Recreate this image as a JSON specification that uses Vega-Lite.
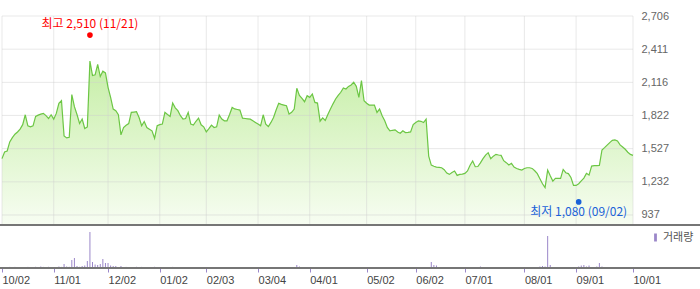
{
  "$schema": "https://vega.github.io/schema/vega-lite/v6.json",
  "width": 700,
  "height": 268,
  "autosize": "none",
  "padding": {"left": 0, "top": 0, "right": 0, "bottom": 21},
  "background": "white",
  "config": {"view": {"stroke": null}, "font": "Liberation Sans"},
  "datasets": {
    "px": [
      {"d":"2024-10-02","p":1438,"v":30},{"d":"2024-10-04","p":1497,"v":20},{"d":"2024-10-07","p":1506,"v":20},{"d":"2024-10-08","p":1587,"v":110},{"d":"2024-10-10","p":1625,"v":100},
      {"d":"2024-10-11","p":1655,"v":110},{"d":"2024-10-14","p":1675,"v":20},{"d":"2024-10-15","p":1700,"v":100},{"d":"2024-10-16","p":1740,"v":100},{"d":"2024-10-17","p":1828,"v":20},
      {"d":"2024-10-18","p":1730,"v":110},{"d":"2024-10-21","p":1721,"v":20},{"d":"2024-10-22","p":1730,"v":100},{"d":"2024-10-23","p":1813,"v":120},{"d":"2024-10-24","p":1825,"v":100},
      {"d":"2024-10-25","p":1834,"v":150},{"d":"2024-10-28","p":1840,"v":110},{"d":"2024-10-29","p":1820,"v":20},{"d":"2024-10-30","p":1795,"v":120},{"d":"2024-10-31","p":1828,"v":20},
      {"d":"2024-11-01","p":1789,"v":20},{"d":"2024-11-04","p":1840,"v":100},{"d":"2024-11-05","p":1930,"v":150},{"d":"2024-11-06","p":1953,"v":110},{"d":"2024-11-07","p":1640,"v":400},
      {"d":"2024-11-08","p":1622,"v":150},{"d":"2024-11-11","p":1628,"v":120},{"d":"2024-11-12","p":2007,"v":800},{"d":"2024-11-13","p":1900,"v":1000},{"d":"2024-11-14","p":1830,"v":200},
      {"d":"2024-11-15","p":1750,"v":120},{"d":"2024-11-18","p":1790,"v":200},{"d":"2024-11-19","p":1706,"v":250},{"d":"2024-11-20","p":1720,"v":700},{"d":"2024-11-21","p":2305,"v":3600},
      {"d":"2024-11-22","p":2177,"v":600},{"d":"2024-11-25","p":2183,"v":350},{"d":"2024-11-26","p":2275,"v":300},{"d":"2024-11-27","p":2168,"v":400},{"d":"2024-11-28","p":2215,"v":900},
      {"d":"2024-11-29","p":2200,"v":500},{"d":"2024-12-02","p":2072,"v":500},{"d":"2024-12-03","p":1983,"v":250},{"d":"2024-12-04","p":1879,"v":200},{"d":"2024-12-05","p":1864,"v":200},
      {"d":"2024-12-06","p":1828,"v":100},{"d":"2024-12-09","p":1649,"v":200},{"d":"2024-12-10","p":1715,"v":100},{"d":"2024-12-11","p":1735,"v":110},{"d":"2024-12-12","p":1750,"v":100},
      {"d":"2024-12-13","p":1849,"v":100},{"d":"2024-12-16","p":1852,"v":100},{"d":"2024-12-17","p":1855,"v":120},{"d":"2024-12-18","p":1804,"v":100},{"d":"2024-12-19","p":1730,"v":110},
      {"d":"2024-12-20","p":1768,"v":100},{"d":"2024-12-23","p":1715,"v":20},{"d":"2024-12-24","p":1700,"v":100},{"d":"2024-12-26","p":1685,"v":100},{"d":"2024-12-27","p":1619,"v":120},
      {"d":"2024-12-30","p":1730,"v":20},{"d":"2025-01-02","p":1740,"v":100},{"d":"2025-01-03","p":1745,"v":20},{"d":"2025-01-06","p":1849,"v":100},{"d":"2025-01-07","p":1830,"v":100},
      {"d":"2025-01-08","p":1813,"v":20},{"d":"2025-01-09","p":1932,"v":110},{"d":"2025-01-10","p":1890,"v":20},{"d":"2025-01-13","p":1864,"v":100},{"d":"2025-01-14","p":1820,"v":20},
      {"d":"2025-01-15","p":1789,"v":20},{"d":"2025-01-16","p":1795,"v":100},{"d":"2025-01-17","p":1849,"v":20},{"d":"2025-01-20","p":1745,"v":100},{"d":"2025-01-21","p":1736,"v":100},
      {"d":"2025-01-22","p":1770,"v":20},{"d":"2025-01-23","p":1798,"v":20},{"d":"2025-01-24","p":1739,"v":20},{"d":"2025-01-31","p":1721,"v":20},{"d":"2025-02-03","p":1676,"v":20},
      {"d":"2025-02-04","p":1705,"v":20},{"d":"2025-02-05","p":1736,"v":100},{"d":"2025-02-06","p":1715,"v":20},{"d":"2025-02-07","p":1721,"v":20},{"d":"2025-02-10","p":1825,"v":100},
      {"d":"2025-02-11","p":1790,"v":20},{"d":"2025-02-12","p":1774,"v":20},{"d":"2025-02-13","p":1774,"v":100},{"d":"2025-02-14","p":1830,"v":20},{"d":"2025-02-17","p":1893,"v":20},
      {"d":"2025-02-18","p":1880,"v":100},{"d":"2025-02-19","p":1875,"v":100},{"d":"2025-02-20","p":1870,"v":100},{"d":"2025-02-21","p":1798,"v":20},{"d":"2025-02-24","p":1795,"v":20},
      {"d":"2025-02-25","p":1792,"v":20},{"d":"2025-02-26","p":1789,"v":100},{"d":"2025-02-27","p":1775,"v":20},{"d":"2025-02-28","p":1760,"v":20},{"d":"2025-03-04","p":1745,"v":20},
      {"d":"2025-03-05","p":1730,"v":100},{"d":"2025-03-06","p":1828,"v":100},{"d":"2025-03-07","p":1745,"v":20},{"d":"2025-03-10","p":1724,"v":100},{"d":"2025-03-11","p":1760,"v":100},
      {"d":"2025-03-12","p":1804,"v":100},{"d":"2025-03-13","p":1870,"v":100},{"d":"2025-03-14","p":1929,"v":100},{"d":"2025-03-17","p":1920,"v":100},{"d":"2025-03-18","p":1914,"v":20},
      {"d":"2025-03-19","p":1908,"v":100},{"d":"2025-03-20","p":1834,"v":100},{"d":"2025-03-21","p":1850,"v":20},{"d":"2025-03-24","p":1879,"v":100},{"d":"2025-03-25","p":2063,"v":300},
      {"d":"2025-03-26","p":2000,"v":150},{"d":"2025-03-27","p":1974,"v":100},{"d":"2025-03-28","p":1944,"v":100},{"d":"2025-03-31","p":1998,"v":100},{"d":"2025-04-01","p":1983,"v":20},
      {"d":"2025-04-02","p":2013,"v":100},{"d":"2025-04-03","p":1938,"v":100},{"d":"2025-04-04","p":1932,"v":20},{"d":"2025-04-07","p":1771,"v":20},{"d":"2025-04-08","p":1800,"v":100},
      {"d":"2025-04-09","p":1777,"v":20},{"d":"2025-04-10","p":1830,"v":20},{"d":"2025-04-11","p":1879,"v":100},{"d":"2025-04-14","p":1925,"v":100},{"d":"2025-04-15","p":1968,"v":20},
      {"d":"2025-04-16","p":2000,"v":100},{"d":"2025-04-17","p":2028,"v":20},{"d":"2025-04-18","p":2066,"v":100},{"d":"2025-04-21","p":2057,"v":100},{"d":"2025-04-22","p":2080,"v":100},
      {"d":"2025-04-23","p":2093,"v":100},{"d":"2025-04-24","p":2117,"v":100},{"d":"2025-04-25","p":2081,"v":100},{"d":"2025-04-28","p":1983,"v":100},{"d":"2025-04-29","p":2132,"v":100},
      {"d":"2025-04-30","p":1953,"v":20},{"d":"2025-05-02","p":1930,"v":100},{"d":"2025-05-07","p":1914,"v":20},{"d":"2025-05-08","p":1914,"v":100},{"d":"2025-05-09","p":1914,"v":100},
      {"d":"2025-05-12","p":1849,"v":20},{"d":"2025-05-13","p":1879,"v":100},{"d":"2025-05-14","p":1820,"v":100},{"d":"2025-05-15","p":1774,"v":100},{"d":"2025-05-16","p":1715,"v":20},
      {"d":"2025-05-19","p":1685,"v":20},{"d":"2025-05-20","p":1690,"v":20},{"d":"2025-05-21","p":1694,"v":20},{"d":"2025-05-22","p":1675,"v":20},{"d":"2025-05-23","p":1664,"v":20},
      {"d":"2025-05-26","p":1685,"v":20},{"d":"2025-05-27","p":1670,"v":100},{"d":"2025-05-28","p":1672,"v":20},{"d":"2025-05-29","p":1676,"v":20},{"d":"2025-05-30","p":1740,"v":100},
      {"d":"2025-06-02","p":1759,"v":20},{"d":"2025-06-04","p":1774,"v":20},{"d":"2025-06-05","p":1770,"v":100},{"d":"2025-06-09","p":1759,"v":20},{"d":"2025-06-10","p":1789,"v":20},
      {"d":"2025-06-11","p":1461,"v":100},{"d":"2025-06-12","p":1381,"v":600},{"d":"2025-06-13","p":1370,"v":300},{"d":"2025-06-16","p":1363,"v":250},{"d":"2025-06-17","p":1360,"v":100},
      {"d":"2025-06-18","p":1357,"v":20},{"d":"2025-06-19","p":1340,"v":100},{"d":"2025-06-20","p":1310,"v":100},{"d":"2025-06-23","p":1298,"v":100},{"d":"2025-06-24","p":1315,"v":20},
      {"d":"2025-06-25","p":1328,"v":20},{"d":"2025-06-26","p":1289,"v":20},{"d":"2025-06-27","p":1298,"v":20},{"d":"2025-06-30","p":1300,"v":20},{"d":"2025-07-01","p":1307,"v":20},
      {"d":"2025-07-02","p":1328,"v":20},{"d":"2025-07-03","p":1380,"v":100},{"d":"2025-07-04","p":1417,"v":20},{"d":"2025-07-07","p":1366,"v":100},{"d":"2025-07-08","p":1368,"v":100},
      {"d":"2025-07-09","p":1400,"v":150},{"d":"2025-07-10","p":1438,"v":20},{"d":"2025-07-11","p":1470,"v":20},{"d":"2025-07-14","p":1491,"v":20},{"d":"2025-07-15","p":1438,"v":20},
      {"d":"2025-07-16","p":1460,"v":20},{"d":"2025-07-17","p":1476,"v":20},{"d":"2025-07-18","p":1470,"v":20},{"d":"2025-07-21","p":1467,"v":20},{"d":"2025-07-22","p":1420,"v":20},
      {"d":"2025-07-23","p":1402,"v":100},{"d":"2025-07-24","p":1381,"v":20},{"d":"2025-07-25","p":1396,"v":20},{"d":"2025-07-28","p":1363,"v":20},{"d":"2025-07-29","p":1350,"v":100},
      {"d":"2025-07-30","p":1342,"v":20},{"d":"2025-07-31","p":1336,"v":20},{"d":"2025-08-01","p":1350,"v":20},{"d":"2025-08-04","p":1357,"v":100},{"d":"2025-08-05","p":1357,"v":20},
      {"d":"2025-08-06","p":1351,"v":100},{"d":"2025-08-07","p":1330,"v":20},{"d":"2025-08-08","p":1304,"v":100},{"d":"2025-08-11","p":1260,"v":150},{"d":"2025-08-12","p":1215,"v":200},
      {"d":"2025-08-13","p":1180,"v":150},{"d":"2025-08-14","p":1336,"v":3200},{"d":"2025-08-18","p":1285,"v":300},{"d":"2025-08-19","p":1238,"v":100},{"d":"2025-08-20","p":1262,"v":100},
      {"d":"2025-08-21","p":1262,"v":100},{"d":"2025-08-22","p":1262,"v":100},{"d":"2025-08-25","p":1342,"v":100},{"d":"2025-08-26","p":1313,"v":100},{"d":"2025-08-27","p":1305,"v":100},
      {"d":"2025-08-28","p":1270,"v":20},{"d":"2025-08-29","p":1200,"v":100},{"d":"2025-09-01","p":1200,"v":100},{"d":"2025-09-02","p":1215,"v":150},{"d":"2025-09-03","p":1240,"v":250},
      {"d":"2025-09-04","p":1265,"v":300},{"d":"2025-09-05","p":1307,"v":150},{"d":"2025-09-08","p":1292,"v":250},{"d":"2025-09-09","p":1372,"v":100},{"d":"2025-09-10","p":1375,"v":20},
      {"d":"2025-09-11","p":1376,"v":150},{"d":"2025-09-12","p":1378,"v":500},{"d":"2025-09-15","p":1515,"v":150},{"d":"2025-09-16","p":1536,"v":100},{"d":"2025-09-17","p":1558,"v":100},
      {"d":"2025-09-18","p":1580,"v":100},{"d":"2025-09-19","p":1600,"v":100},{"d":"2025-09-22","p":1604,"v":100},{"d":"2025-09-23","p":1595,"v":100},{"d":"2025-09-24","p":1560,"v":20},
      {"d":"2025-09-25","p":1541,"v":100},{"d":"2025-09-26","p":1521,"v":100},{"d":"2025-09-29","p":1495,"v":0},{"d":"2025-09-30","p":1476,"v":0},{"d":"2025-10-01","p":1467,"v":0}
    ],
    "ext": [
      {"d":"2024-11-21","p":2510,"kind":"max","label":"최고 2,510 (11/21)"},
      {"d":"2025-09-02","p":1080,"kind":"min","label":"최저 1,080 (09/02)"}
    ],
    "ticks": [{"p":937},{"p":1232},{"p":1527},{"p":1822},{"p":2116},{"p":2411},{"p":2706}]
  },
  "data": {"name": "px"},
  "layer": [
    {
      "layer": [
        {
          "mark": {"type": "area", "color": {"gradient": "linear", "x1": 0, "y1": 0, "x2": 0, "y2": 1, "stops": [{"offset": 0, "color": "#c6eea6"}, {"offset": 1, "color": "#f7fdf2"}]}, "opacity": 1},
          "encoding": {
            "x": {"field": "d", "type": "ordinal", "scale": {"type": "point", "range": [2, 633], "padding": 0},
                  "axis": {"values": ["2024-10-02","2024-11-01","2024-12-02","2025-01-02","2025-02-03","2025-03-04","2025-04-01","2025-05-02","2025-06-02","2025-07-01","2025-08-01","2025-09-01","2025-10-01"],
                           "labelExpr": "substring(datum.value,5,7)+'/'+substring(datum.value,8,10)",
                           "labelAlign": "left", "labelAngle": 0, "labelBaseline": "top", "labelPadding": 2, "labelOverlap": false, "labelBound": false,
                           "tickColor": "#9b87c9", "tickSize": 4, "tickWidth": 1, "domain": false, "grid": false,
                           "labelColor": "#444", "labelFontSize": 11, "labelFont": "Liberation Sans", "title": null}},
            "y": {"field": "p", "type": "quantitative", "scale": {"domain": [848, 2706], "range": [225, 16], "zero": false, "nice": false},
                  "axis": {"orient": "right", "values": [937,1232,1527,1822,2116,2411,2706], "format": ",d", "domain": false, "ticks": false, "tickSize": 0, "grid": false, "labelPadding": 0, "offset": -59, "labelColor": "#666", "labelFontSize": 11, "labelFont": "Liberation Sans", "title": null}},
            "y2": {"datum": 848}
          }
        },
        {
          "data": {"name": "ticks"},
          "mark": {"type": "rule", "color": "#cfcfcf", "opacity": 0.45, "strokeWidth": 1},
          "encoding": {
            "x": {"datum": "2024-10-02", "type": "ordinal"},
            "x2": {"datum": "2025-10-01"},
            "y": {"field": "p", "type": "quantitative"}
          }
        },
        {
          "transform": [{"filter": {"field": "d", "oneOf": ["2024-10-02","2024-11-01","2024-12-02","2025-01-02","2025-02-03","2025-03-04","2025-04-01","2025-05-02","2025-06-02","2025-07-01","2025-08-01","2025-09-01","2025-10-01"]}}],
          "mark": {"type": "rule", "color": "#cfcfcf", "opacity": 0.45, "strokeWidth": 1},
          "encoding": {
            "x": {"field": "d", "type": "ordinal"},
            "y": {"datum": 2706, "type": "quantitative"},
            "y2": {"datum": 848}
          }
        },
        {
          "mark": {"type": "line", "color": "#6cc644", "strokeWidth": 1.2},
          "encoding": {
            "x": {"field": "d", "type": "ordinal"},
            "y": {"field": "p", "type": "quantitative"}
          }
        },
        {
          "mark": {"type": "rule", "color": "#777777", "strokeWidth": 1},
          "encoding": {"y": {"datum": 848, "type": "quantitative"}}
        },
        {
          "data": {"name": "ext"},
          "transform": [{"filter": "datum.kind == 'max'"}],
          "layer": [
            {"mark": {"type": "point", "filled": true, "size": 32, "color": "#ff0000", "opacity": 1, "yOffset": -3},
             "encoding": {"x": {"field": "d", "type": "ordinal"}, "y": {"field": "p", "type": "quantitative"}}},
            {"mark": {"type": "text", "color": "#ff0000", "font": "Noto Sans CJK KR", "fontSize": 12, "align": "center", "baseline": "middle", "yOffset": -14},
             "encoding": {"x": {"field": "d", "type": "ordinal"}, "y": {"field": "p", "type": "quantitative"}, "text": {"field": "label"}}}
          ]
        },
        {
          "data": {"name": "ext"},
          "transform": [{"filter": "datum.kind == 'min'"}],
          "layer": [
            {"mark": {"type": "point", "filled": true, "size": 32, "color": "#1a62d8", "opacity": 1, "yOffset": 3},
             "encoding": {"x": {"field": "d", "type": "ordinal"}, "y": {"field": "p", "type": "quantitative"}}},
            {"mark": {"type": "text", "color": "#1a62d8", "font": "Noto Sans CJK KR", "fontSize": 12, "align": "center", "baseline": "middle", "yOffset": 13},
             "encoding": {"x": {"field": "d", "type": "ordinal"}, "y": {"field": "p", "type": "quantitative"}, "text": {"field": "label"}}}
          ]
        }
      ]
    },
    {
      "layer": [
        {
          "mark": {"type": "rule", "strokeWidth": 1},
          "encoding": {
            "x": {"field": "d", "type": "ordinal"},
            "y": {"field": "v", "type": "quantitative", "scale": {"domain": [0, 4200], "range": [268, 226], "zero": true, "nice": false}, "axis": null},
            "y2": {"datum": 0},
            "color": {"datum": "거래량", "type": "nominal", "scale": {"domain": ["거래량"], "range": ["#9b87c9"]},
                      "legend": {"orient": "none", "legendX": 650, "legendY": 232, "title": null, "symbolType": "M-0.35,-1h0.7v2h-0.7z", "symbolSize": 64, "symbolFillColor": "#9b87c9", "symbolStrokeWidth": 0, "labelFont": "Noto Sans CJK KR", "labelFontSize": 11, "labelColor": "#555", "labelOffset": 2, "padding": 0}}
          }
        },
        {
          "mark": {"type": "rule", "color": "#777777", "strokeWidth": 1},
          "encoding": {"y": {"datum": 0, "type": "quantitative"}}
        }
      ]
    }
  ],
  "resolve": {"scale": {"y": "independent", "color": "independent"}, "axis": {"y": "independent"}}
}
